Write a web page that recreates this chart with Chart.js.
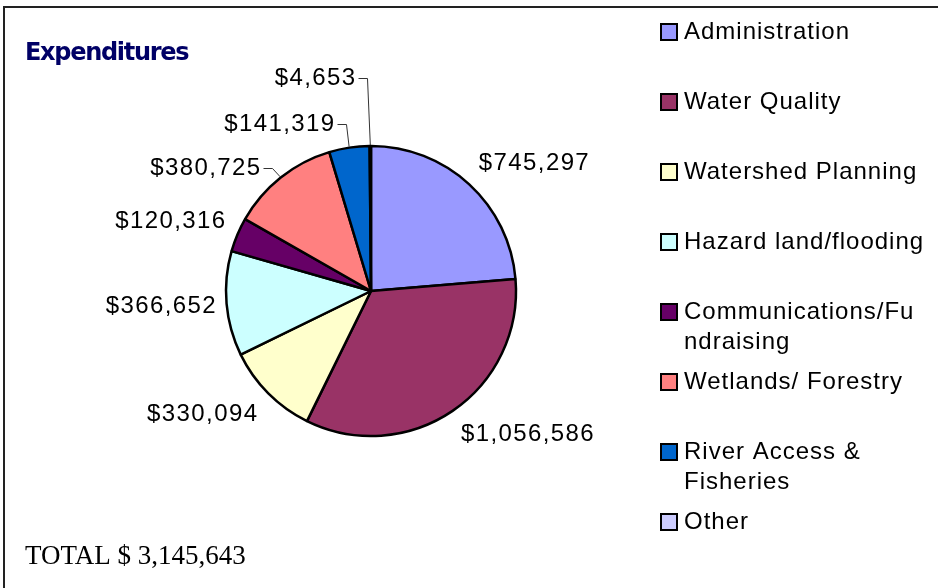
<!DOCTYPE html>
<html>
<head>
<meta charset="utf-8">
<script src="https://cdn.jsdelivr.net/npm/chart.js@4.4.0/dist/chart.umd.min.js"></script>
<style>
  html, body { margin: 0; padding: 0; background: #fff; }
  #wrap { position: relative; width: 938px; height: 588px; background: #fff; }
</style>
</head>
<body>
<div id="wrap"><canvas id="myPieChart" width="938" height="588"></canvas></div>
<script>
// chart data
var categories = ['Administration', 'Water Quality', 'Watershed Planning', 'Hazard land/flooding',
                  'Communications/Fundraising', 'Wetlands/ Forestry', 'River Access & Fisheries', 'Other'];
var amounts = [745297, 1056586, 330094, 366652, 120316, 380725, 141319, 4653];
var sliceColors = ['#9999FF', '#993366', '#FFFFCC', '#CCFFFF', '#660066', '#FF8080', '#0066CC', '#CCCCFF'];
var chartTitle = 'Expenditures';
var totalText = 'TOTAL $ 3,145,643';

function clamp(v) {
    return Math.max(-1, Math.min(1, v));
}

function money(v) {
    return '$' + v.toLocaleString('en-US');
}

// split a legend label into lines that fit maxW (break inside a word if it has to)
function wrapText(ctx, text, maxW) {
    var words = text.split(' ');
    var lines = [];
    var line = '';
    words.forEach(function (word) {
        var test = line ? line + ' ' + word : word;
        if (ctx.measureText(test).width <= maxW) {
            line = test;
            return;
        }
        if (line) {
            lines.push(line);
            line = '';
        }
        // word alone too long -> break by characters
        var chunk = '';
        for (var i = 0; i < word.length; i++) {
            if (ctx.measureText(chunk + word[i]).width > maxW && chunk) {
                lines.push(chunk);
                chunk = '';
            }
            chunk += word[i];
        }
        line = chunk;
    });
    if (line) lines.push(line);
    return lines;
}

// value labels round the pie, leader lines for the small top slices
var sliceLabels = {
    id: 'sliceLabels',
    afterDatasetsDraw: function (chart, args, opts) {
        var ctx = chart.ctx;
        var meta = chart.getDatasetMeta(0);
        ctx.save();
        ctx.font = '24px "Liberation Sans", Arial, sans-serif';
        ctx.letterSpacing = '1.4px';
        ctx.fillStyle = '#000';
        ctx.textBaseline = 'middle';
        meta.data.forEach(function (arc, i) {
            var p = arc.getProps(['x', 'y', 'startAngle', 'endAngle', 'outerRadius'], true);
            var mid = (p.startAngle + p.endAngle) / 2;
            var cos = Math.cos(mid), sin = Math.sin(mid);
            var r = p.outerRadius + 1;
            var text = money(amounts[i]);
            var w = ctx.measureText(text).width;
            var lead = opts.leaders[i];
            if (lead) {
                var ex = p.x + r * cos, ey = p.y + r * sin;
                var bx = Math.round(ex + lead[0]) + 0.5, by = Math.round(ey + lead[1]) + 0.5;
                ctx.strokeStyle = '#333';
                ctx.lineWidth = 1;
                ctx.beginPath();
                ctx.moveTo(ex, ey);
                ctx.lineTo(bx, by);
                ctx.lineTo(bx - 9, by);
                ctx.stroke();
                ctx.textAlign = 'right';
                ctx.fillText(text, bx - 11, by);
            } else {
                var gap = 8 + 7 * Math.abs(sin);
                var px = p.x + (r + gap) * cos, py = p.y + (r + gap) * sin;
                ctx.textAlign = 'center';
                ctx.fillText(text, px + w / 2 * clamp(cos * 2), py + 11 * clamp(sin * 2));
            }
        });
        ctx.restore();
    }
};

// frame, title, legend, total
var decorations = {
    id: 'decorations',
    afterDraw: function (chart) {
        var ctx = chart.ctx;
        ctx.save();
        // frame (top + left edge)
        ctx.strokeStyle = '#222';
        ctx.lineWidth = 2;
        ctx.beginPath();
        ctx.moveTo(4, 600);
        ctx.lineTo(4, 7);
        ctx.lineTo(950, 7);
        ctx.stroke();

        // title
        ctx.fillStyle = '#000066';
        ctx.font = 'bold 24px "DejaVu Sans", Verdana, sans-serif';
        ctx.letterSpacing = '-1.3px';
        ctx.textAlign = 'left';
        ctx.textBaseline = 'alphabetic';
        ctx.fillText(chartTitle, 25, 60);

        // total
        ctx.fillStyle = '#000';
        ctx.font = '27px "Liberation Serif", "Times New Roman", serif';
        ctx.letterSpacing = '0px';
        ctx.fillText(totalText, 25, 564);

        // legend
        ctx.font = '24px "Liberation Sans", Arial, sans-serif';
        ctx.letterSpacing = '1px';
        ctx.textBaseline = 'middle';
        categories.forEach(function (cat, i) {
            var y = 32 + i * 70;
            ctx.fillStyle = sliceColors[i];
            ctx.fillRect(661, y - 8, 16, 16);
            ctx.strokeStyle = '#000';
            ctx.lineWidth = 2;
            ctx.strokeRect(661, y - 8, 16, 16);
            ctx.fillStyle = '#000';
            var lines = wrapText(ctx, cat, 241);
            lines.forEach(function (ln, k) {
                ctx.fillText(ln, 684, y + k * 30);
            });
        });
        ctx.restore();
    }
};

var ctx = document.getElementById('myPieChart').getContext('2d');
var myPieChart = new Chart(ctx, {
    type: 'pie',
    data: {
        labels: categories,
        datasets: [{
            data: amounts,
            backgroundColor: sliceColors,
            borderColor: '#000',
            borderWidth: 2.5,
            radius: 145,
            hoverOffset: 0
        }]
    },
    options: {
        responsive: false,
        animation: false,
        devicePixelRatio: 1,
        layout: {
            padding: { left: 0, right: 196, top: 0, bottom: 6 }
        },
        plugins: {
            legend: { display: false },
            tooltip: { enabled: false },
            sliceLabels: {
                leaders: [null, null, null, null, null, [-8, -9], [-3, -23], [-3, -67]]
            }
        }
    },
    plugins: [sliceLabels, decorations]
});
</script>
</body>
</html>
